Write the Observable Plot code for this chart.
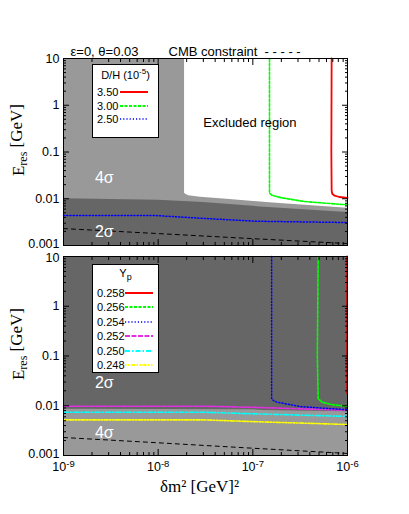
<!DOCTYPE html>
<html><head><meta charset="utf-8">
<script src="https://cdn.jsdelivr.net/npm/d3@7"></script>
<script src="https://cdn.jsdelivr.net/npm/@observablehq/plot@0.6"></script>
<style>
body{margin:0;background:#fff;}
#wrap{position:relative;width:409px;height:514px;}
#wrap > svg{display:block;overflow:visible;}
.legend{position:absolute;background:#fff;border:1.5px solid #000;box-sizing:border-box;font:11px "Liberation Sans",Arial,sans-serif;color:#000;}
.legend .ttl{position:absolute;left:0;width:100%;text-align:center;}
.legend .row{position:absolute;left:4px;height:14px;line-height:14px;}
.legend svg{position:absolute;}
</style></head><body><div id="wrap"></div><script>
// ---------- data ----------
const xDomain = [1e-9, 1e-6];
const yDomain = [0.001, 10];
const yTickValues = [0.001, 0.01, 0.1, 1, 10];
const yTickLabels = ["0.001", "0.01", "0.1", "1", "10"];
const xTickValues = [1e-9, 1e-8, 1e-7, 1e-6];
const xTickLabels = ["10^-9", "10^-8", "10^-7", "10^-6"];

// top panel (D/H)
const top2sigmaX = [1e-9, 1e-8, 3e-8, 1.2e-7, 1e-6];
const top2sigmaE = [0.0100, 0.0093, 0.0083, 0.0067, 0.0051];
const topExclX = [1.9e-8, 1.95e-8, 2.1e-8, 2.8e-8, 5.7e-8, 1.5e-7, 1e-6];
const topExclE = [0.0135, 0.0125, 0.0116, 0.0108, 0.0096, 0.0082, 0.0063];
const dh350X = [6.8e-7, 6.75e-7, 6.8e-7, 6.9e-7, 7.3e-7, 8.2e-7, 1e-6];
const dh350E = [10, 0.1, 0.015, 0.0128, 0.0116, 0.0109, 0.0104];
const dh300X = [1.5e-7, 1.5e-7, 1.52e-7, 1.6e-7, 2e-7, 3.4e-7, 6e-7, 1e-6];
const dh300E = [10, 0.014, 0.0128, 0.0118, 0.0105, 0.0088, 0.0080, 0.0074];
const dh250X = [1e-9, 9e-9, 3e-8, 1.1e-7, 1e-6];
const dh250E = [0.0044, 0.0044, 0.0038, 0.0033, 0.0031];
const cmbX = [1e-9, 1e-8, 1e-7, 1e-6];
const cmbE = [0.0023, 0.0018, 0.0014, 0.0011];
const dhLegend = ["3.50", "3.00", "2.50"];

// bottom panel (Yp)
const bot4sigmaX = [1e-9, 1e-7, 1.3e-7, 1e-6];
const bot4sigmaE = [0.0085, 0.0083, 0.0080, 0.0076];
const yp258X = [9.9e-7, 9.9e-7];
const yp258E = [10, 0.018];
const yp256X = [4.9e-7, 4.85e-7, 4.8e-7, 4.9e-7, 5.4e-7, 7.1e-7, 1e-6];
const yp256E = [10, 1, 0.1, 0.0139, 0.0118, 0.0104, 0.0098];
const yp254X = [1.58e-7, 1.58e-7, 1.65e-7, 1.8e-7, 3.2e-7, 1e-6];
const yp254E = [10, 0.0142, 0.0127, 0.0118, 0.0096, 0.0083];
const yp252X = [1e-9, 3e-8, 1e-7, 1e-6];
const yp252E = [0.0098, 0.0098, 0.0093, 0.0081];
const yp250X = [1e-9, 3e-8, 1e-7, 1e-6];
const yp250E = [0.0074, 0.0074, 0.0069, 0.0061];
const yp248X = [1e-9, 3e-8, 1e-7, 1e-6];
const yp248E = [0.0052, 0.0052, 0.0048, 0.0042];
const ypLegend = ["0.258", "0.256", "0.254", "0.252", "0.250", "0.248"];

// annotation positions
const topLabels = [{x: 2.7e-9, e: 0.0285, t: "4σ"}, {x: 2.7e-9, e: 0.002, t: "2σ"}];
const topExclLabel = [{x: 3.0e-8, e: 0.43, t: "Excluded region"}];
const botLabels = [{x: 2.7e-9, e: 0.029, t: "2σ"}, {x: 2.7e-9, e: 0.0028, t: "4σ"}];

// ---------- helpers ----------
const zip = (xs, es) => xs.map((x, i) => ({x, e: es[i]}));
const minor = (lo, hi) => { const r = []; for (let d = lo; d < hi; d++) for (let k = 2; k <= 9; k++) r.push(k * Math.pow(10, d)); return r; };
const xMinor = minor(-9, -6), yMinor = minor(-3, 1);
const sans = '"Liberation Sans", Arial, sans-serif';
const serif = '"Liberation Serif", "Times New Roman", serif';
const C = {red: "#ff0000", green: "#00ff00", blue: "#0000ff", magenta: "#e030e0", cyan: "#00ffff", yellow: "#ffff00"};
const dash = {green: "3,1.5", blue: "1.2,2", magenta: "5,1.5", cyan: "5,2,1.5,2", yellow: "1.5,1.5,1.5,1.5,4,1.5", cmb: "4,4"};

function tickMarks(bottomLabels) {
  const none = () => "";
  const m = [];
  for (const a of ["left", "right"]) {
    m.push(Plot.axisY(yTickValues, {anchor: a, tickSize: -6, tickFormat: none, label: null}));
    m.push(Plot.axisY(yMinor, {anchor: a, tickSize: -3, tickFormat: none, label: null}));
  }
  for (const a of ["top", "bottom"]) {
    m.push(Plot.axisX(xTickValues, {anchor: a, tickSize: -6, tickFormat: none, label: null}));
    m.push(Plot.axisX(xMinor, {anchor: a, tickSize: -3, tickFormat: none, label: null}));
  }
  m.push(Plot.axisY(yTickValues, {anchor: "left", tickSize: 0, tickPadding: 4,
    tickFormat: d => yTickLabels[yTickValues.indexOf(d)], label: "Eres [GeV]", labelAnchor: "center", labelOffset: 52}));
  if (bottomLabels) m.push(Plot.axisX(xTickValues, {anchor: "bottom", tickSize: 0, tickPadding: 7,
    tickFormat: d => xTickLabels[xTickValues.indexOf(d)], label: "δm² [GeV]²", labelAnchor: "center", labelOffset: 36}));
  return m;
}

function post(svg, nudge) {
  const s = d3.select(svg);
  s.selectAll('[aria-label="x-axis tick label"] text').each(function () {
    const t = d3.select(this), str = t.text();
    if (!str.includes("^")) return;
    const [b, p] = str.split("^");
    t.text(null);
    t.append("tspan").text(b);
    t.append("tspan").attr("dy", "-0.5em").attr("font-size", "9.5px").text(p);
  });
  s.selectAll('[aria-label="y-axis tick label"] text').each(function () {
    const t = d3.select(this), str = t.text();
    if (nudge[str] !== undefined) t.attr("transform",
      (t.attr("transform") || "") + ` translate(0,${nudge[str]})`);
  });
  s.selectAll('[aria-label="y-axis label"] text').each(function () {
    const t = d3.select(this);
    t.text(null).attr("font-family", serif).attr("font-size", "17px").attr("dx", 12);
    t.append("tspan").text("E");
    t.append("tspan").attr("dy", "0.3em").attr("font-size", "12px").text("res");
    t.append("tspan").attr("dy", "-0.3em").text(" [GeV]");
  });
  s.selectAll('[aria-label="x-axis label"] text').attr("font-family", serif).attr("font-size", "17px")
    .attr("dx", -6).text("δm² [GeV]²");
}

const common = {
  width: 409, marginLeft: 63, marginRight: 62,
  x: {type: "log", domain: xDomain},
  y: {type: "log", domain: yDomain},
  style: {fontFamily: sans, fontSize: "12.5px", background: "transparent", color: "#000", overflow: "visible"}
};

// ---------- top panel ----------
const topPlot = Plot.plot({
  ...common, height: 250, marginTop: 58, marginBottom: 5,
  marks: [
    Plot.frame({fill: "#999999", stroke: null}),
    Plot.areaY(zip(topExclX, topExclE), {x: "x", y1: "e", y2: () => 10, fill: "#ffffff"}),
    Plot.areaY(zip(top2sigmaX, top2sigmaE), {x: "x", y1: () => 0.001, y2: "e", fill: "#666666"}),
    Plot.line(zip(cmbX, cmbE), {x: "x", y: "e", stroke: "#000", strokeWidth: 1, strokeDasharray: dash.cmb}),
    Plot.line(zip(dh250X, dh250E), {x: "x", y: "e", stroke: C.blue, strokeWidth: 1.5, strokeDasharray: dash.blue}),
    Plot.line(zip(dh300X, dh300E), {x: "x", y: "e", stroke: C.green, strokeWidth: 1.6, strokeDasharray: dash.green}),
    Plot.line(zip(dh350X, dh350E), {x: "x", y: "e", stroke: C.red, strokeWidth: 1.8}),
    Plot.text(topLabels, {x: "x", y: "e", text: "t", fill: "#fff", fontSize: 16, textAnchor: "middle"}),
    Plot.text(topExclLabel, {x: "x", y: "e", text: "t", fill: "#000", fontSize: 13, textAnchor: "start"}),
    Plot.text(["ε=0, θ=0.03"], {frameAnchor: "top-left", dx: 7, dy: -12, textAnchor: "start", fontSize: 13}),
    Plot.text(["CMB constraint  - - - - -"], {frameAnchor: "top-left", dx: 105, dy: -12, textAnchor: "start", fontSize: 13}),
    ...tickMarks(false),
    Plot.frame({stroke: "#000", strokeWidth: 1})
  ]
});

// ---------- bottom panel ----------
const botPlot = Plot.plot({
  ...common, height: 264, marginTop: 6, marginBottom: 59,
  marks: [
    Plot.frame({fill: "#666666", stroke: null}),
    Plot.areaY(zip(bot4sigmaX, bot4sigmaE), {x: "x", y1: () => 0.001, y2: "e", fill: "#999999"}),
    Plot.line(zip(cmbX, cmbE), {x: "x", y: "e", stroke: "#000", strokeWidth: 1, strokeDasharray: dash.cmb}),
    Plot.line(zip(yp248X, yp248E), {x: "x", y: "e", stroke: C.yellow, strokeWidth: 1.6, strokeDasharray: dash.yellow}),
    Plot.line(zip(yp250X, yp250E), {x: "x", y: "e", stroke: C.cyan, strokeWidth: 1.6, strokeDasharray: dash.cyan}),
    Plot.line(zip(yp252X, yp252E), {x: "x", y: "e", stroke: C.magenta, strokeWidth: 1.6, strokeDasharray: dash.magenta}),
    Plot.line(zip(yp254X, yp254E), {x: "x", y: "e", stroke: C.blue, strokeWidth: 1.5, strokeDasharray: dash.blue}),
    Plot.line(zip(yp256X, yp256E), {x: "x", y: "e", stroke: C.green, strokeWidth: 1.6, strokeDasharray: dash.green}),
    Plot.line(zip(yp258X, yp258E), {x: "x", y: "e", stroke: "#cc0000", strokeWidth: 1.8}),
    Plot.text(botLabels, {x: "x", y: "e", text: "t", fill: "#fff", fontSize: 16, textAnchor: "middle"}),
    ...tickMarks(true),
    Plot.frame({stroke: "#000", strokeWidth: 1})
  ]
});

const wrap = document.getElementById("wrap");
wrap.appendChild(topPlot); post(topPlot, {"0.001": -1.5});
wrap.appendChild(botPlot); post(botPlot, {"10": 1.5, "0.001": -1.5});

// ---------- legends ----------
function legend(left, top, w, h, titleHTML, labels, styles, rowTop, rowStep, lineX) {
  const div = document.createElement("div");
  div.className = "legend";
  Object.assign(div.style, {left: left + "px", top: top + "px", width: w + "px", height: h + "px"});
  const t = document.createElement("div");
  t.className = "ttl"; t.style.top = "2px"; t.innerHTML = titleHTML;
  div.appendChild(t);
  labels.forEach((lab, i) => {
    const y = rowTop + i * rowStep;
    const r = document.createElement("div");
    r.className = "row"; r.style.top = (y - 7) + "px"; r.textContent = lab;
    div.appendChild(r);
    const st = styles[i];
    const sv = d3.create("svg").attr("width", 28).attr("height", 6)
      .style("left", lineX + "px").style("top", (y - 3) + "px");
    sv.append("line").attr("x1", 0).attr("x2", 28).attr("y1", 3).attr("y2", 3)
      .attr("stroke", st.c).attr("stroke-width", st.w).attr("stroke-dasharray", st.d || null);
    div.appendChild(sv.node());
  });
  wrap.appendChild(div);
}
legend(92, 64, 67, 74, 'D/H (10<sup style="font-size:8px">-5</sup>)', dhLegend,
  [{c: C.red, w: 2}, {c: C.green, w: 1.8, d: dash.green}, {c: C.blue, w: 1.6, d: dash.blue}], 27, 13.5, 27);
legend(92, 264, 67, 109, 'Y<sub style="font-size:9px">p</sub>', ypLegend,
  [{c: C.red, w: 2}, {c: C.green, w: 1.8, d: dash.green}, {c: C.blue, w: 1.6, d: dash.blue},
   {c: C.magenta, w: 1.8, d: dash.magenta}, {c: C.cyan, w: 1.8, d: dash.cyan}, {c: C.yellow, w: 1.8, d: dash.yellow}], 28, 14.4, 32);
</script></body></html>
